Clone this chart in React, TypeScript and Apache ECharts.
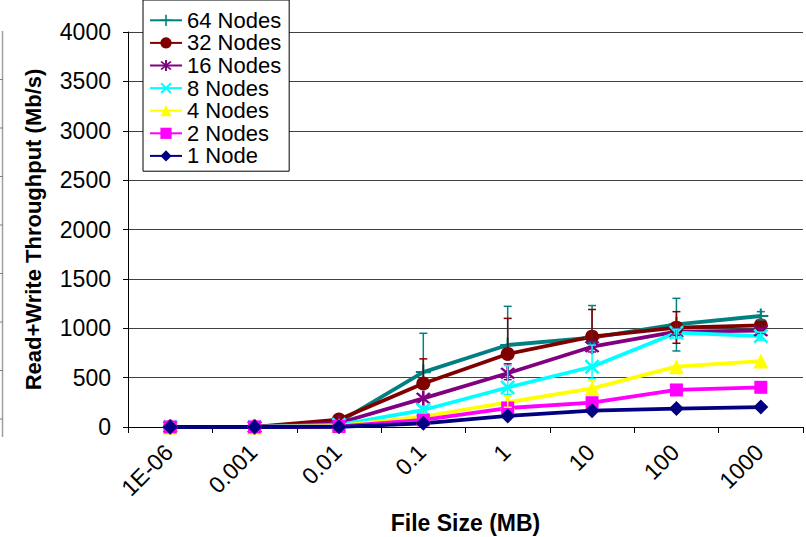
import React, { useEffect, useRef } from "react";
import * as echarts from "echarts";

const categories = ["1E-06", "0.001", "0.01", "0.1", "1", "10", "100", "1000"];
const seriesNames = ["64 Nodes", "32 Nodes", "16 Nodes", "8 Nodes", "4 Nodes", "2 Nodes", "1 Node"];

const n64 = [0, 0, 50, 556, 830, 905, 1040, 1124];
const n32 = [0, 0, 75, 440, 740, 915, 1006, 1030];
const n16 = [0, 0, 40, 290, 544, 813, 965, 975];
const n8 = [0, 0, 22, 172, 400, 610, 955, 921];
const n4 = [0, 0, 12, 104, 250, 392, 611, 668];
const n2 = [0, 0, 5, 71, 192, 246, 375, 402];
const n1 = [0, 0, 2, 37, 112, 165, 187, 202];

// error bars (low, high) per category
const err64Low = [null, null, null, 556, 830, 860, 770, 1085];
const err64High = [null, null, null, 949, 1222, 1230, 1303, 1168];
const err32Low = [null, null, null, 440, 740, 880, 848, 1000];
const err32High = [null, null, null, 690, 1100, 1190, 1168, 1060];
const err16Low = [null, null, null, null, 480, 760, 930, 950];
const err16High = [null, null, null, null, 640, 870, 1000, 1000];
const err8Low = [null, null, null, 140, 330, 490, 900, 880];
const err8High = [null, null, null, 210, 620, 830, 990, 960];
const err4Low = [null, null, null, null, 200, 330, null, null];
const err4High = [null, null, null, null, 310, 466, null, null];

const yTicks = { min: 0, max: 4000, interval: 500 };

const FONT = "Liberation Sans, Arial, sans-serif";

function barsPath(anglesDeg: number[], h: number): string {
  const c = 5;
  let d = "";
  for (const a of anglesDeg) {
    const r = (a * Math.PI) / 180;
    const dx = Math.cos(r), dy = Math.sin(r);
    const nx = -dy, ny = dx;
    const pts = [
      [c + dx * 5 + nx * h, c + dy * 5 + ny * h],
      [c + dx * 5 - nx * h, c + dy * 5 - ny * h],
      [c - dx * 5 - nx * h, c - dy * 5 - ny * h],
      [c - dx * 5 + nx * h, c - dy * 5 + ny * h],
    ];
    d += "M" + pts.map((p) => p[0].toFixed(3) + "," + p[1].toFixed(3)).join("L") + "Z";
  }
  return "path://" + d;
}

const plusSym = barsPath([0, 90], 0.7);
const xSym = barsPath([45, 135], 0.7);
const starSym = barsPath([45, 135, 90], 0.7);

function lineSeries(name: string, data: number[], color: string, symbol: string, size: number) {
  return {
    type: "line",
    name,
    data,
    symbol,
    symbolSize: size,
    showAllSymbol: true,
    lineStyle: { color, width: 3.8 },
    itemStyle: { color },
    z: 2,
  };
}

function errSeries(id: string, color: string, low: (number | null)[], high: (number | null)[]) {
  const data: number[][] = [];
  categories.forEach((_, i) => {
    const lo = low[i];
    const hi = high[i];
    if (lo != null && hi != null) data.push([i, lo, hi]);
  });
  return {
    type: "custom",
    name: id,
    silent: true,
    data,
    encode: { x: 0, y: [1, 2] },
    z: 3,
    renderItem: (_p: any, api: any) => {
      const x = api.value(0);
      const lo = api.coord([x, api.value(1)]);
      const hi = api.coord([x, api.value(2)]);
      const w = 4;
      const st = { stroke: color, lineWidth: 1.5 };
      return {
        type: "group",
        children: [
          { type: "line", shape: { x1: lo[0], y1: lo[1], x2: hi[0], y2: hi[1] }, style: st },
          { type: "line", shape: { x1: hi[0] - w, y1: hi[1], x2: hi[0] + w, y2: hi[1] }, style: st },
          { type: "line", shape: { x1: lo[0] - w, y1: lo[1], x2: lo[0] + w, y2: lo[1] }, style: st },
        ],
      };
    },
  };
}

export default function App() {
  const ref = useRef<HTMLDivElement>(null);
  useEffect(() => {
    if (!ref.current) return;
    const chart = echarts.init(ref.current, null, { renderer: "svg" });
    const leftTicks: any[] = [];
    for (let k = 1; k <= 8; k++) {
      const y = 31 + 48.5 * k;
      leftTicks.push({ type: "line", shape: { x1: 0, y1: y, x2: 3, y2: y }, style: { stroke: "#808080", lineWidth: 1 } });
    }
    chart.setOption({
      animation: false,
      backgroundColor: "#ffffff",
      textStyle: { fontFamily: FONT },
      grid: { left: 128, right: 3, top: 32, bottom: 110, containLabel: false, outerBoundsMode: "none" },
      legend: {
        data: seriesNames,
        orient: "vertical",
        left: 143,
        top: 0,
        backgroundColor: "#ffffff",
        borderColor: "#000000",
        borderWidth: 1,
        padding: [9, 8, 4, 6],
        itemWidth: 32,
        itemHeight: 14,
        itemGap: 0,
        textStyle: { fontSize: 22, color: "#000", fontFamily: FONT, lineHeight: 22.6 },
      },
      xAxis: {
        type: "category",
        data: categories,
        boundaryGap: true,
        name: "File Size (MB)",
        nameLocation: "middle",
        nameGap: 84,
        nameTextStyle: { fontSize: 23, fontWeight: "bold", color: "#000", fontFamily: FONT },
        axisLine: { lineStyle: { color: "#000", width: 1 } },
        axisTick: { show: true, length: 6, lineStyle: { color: "#000" } },
        axisLabel: {
          rotate: 45,
          fontSize: 23,
          color: "#000",
          margin: 20,
          padding: [0, 2, 0, 0],
          fontFamily: FONT,
        },
        splitLine: { show: false },
      },
      yAxis: {
        type: "value",
        min: yTicks.min,
        max: yTicks.max,
        interval: yTicks.interval,
        name: "Read+Write Throughput (Mb/s)",
        nameLocation: "middle",
        nameGap: 84,
        nameTextStyle: { fontSize: 22, fontWeight: "bold", color: "#000", fontFamily: FONT },
        axisLine: { show: true, lineStyle: { color: "#000", width: 1 } },
        axisTick: { show: true, length: 5, lineStyle: { color: "#000" } },
        axisLabel: {
          fontSize: 23,
          color: "#000",
          margin: 17,
          fontFamily: FONT,
          formatter: (v: number) => String(v),
        },
        splitLine: { show: true, lineStyle: { color: "#404040", width: 1 } },
      },
      graphic: [
        { type: "line", shape: { x1: 2.5, y1: 31, x2: 2.5, y2: 437 }, style: { stroke: "#a0a0a0", lineWidth: 1.5 } },
        ...leftTicks,
      ],
      series: [
        lineSeries("64 Nodes", n64, "#008080", plusSym, 15),
        lineSeries("32 Nodes", n32, "#800000", "circle", 14),
        lineSeries("16 Nodes", n16, "#800080", starSym, 15),
        lineSeries("8 Nodes", n8, "#00FFFF", xSym, 15),
        lineSeries("4 Nodes", n4, "#FFFF00", "triangle", 15),
        lineSeries("2 Nodes", n2, "#FF00FF", "rect", 13),
        lineSeries("1 Node", n1, "#000080", "diamond", 15),
        errSeries("e64", "#008080", err64Low, err64High),
        errSeries("e32", "#800000", err32Low, err32High),
        errSeries("e16", "#800080", err16Low, err16High),
        errSeries("e8", "#00FFFF", err8Low, err8High),
        errSeries("e4", "#FFFF00", err4Low, err4High),
      ],
    });
    return () => chart.dispose();
  }, []);
  return (
    <div
      ref={ref}
      style={{ position: "fixed", left: 0, top: 0, width: 806, height: 537, background: "#fff" }}
    />
  );
}
